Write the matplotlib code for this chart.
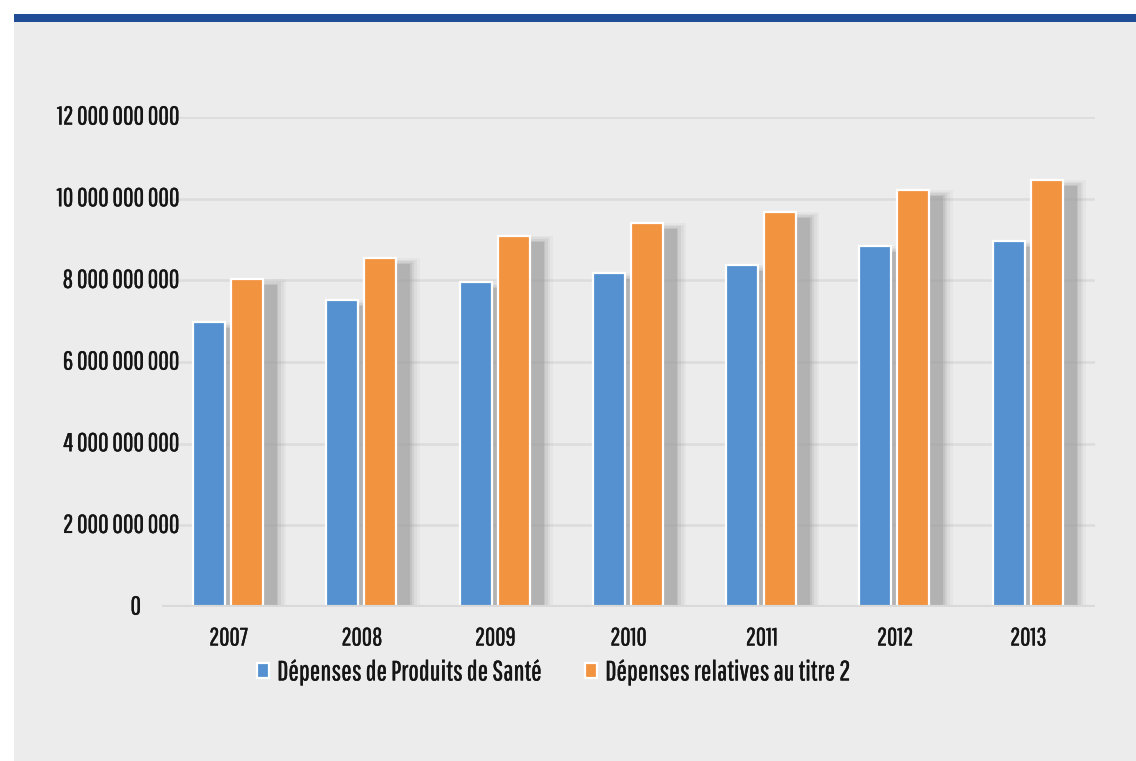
import numpy as np
import matplotlib
matplotlib.use('Agg')
import matplotlib.pyplot as plt
from matplotlib import font_manager
from matplotlib.patches import Rectangle
import matplotlib.patheffects as pe
import matplotlib.transforms as mtransforms

# données
years = ["2007", "2008", "2009", "2010", "2011", "2012", "2013"]
produits_sante = [6.98e9, 7.52e9, 7.96e9, 8.18e9, 8.38e9, 8.84e9, 8.96e9]
titre_2 = [8.03e9, 8.55e9, 9.09e9, 9.40e9, 9.67e9, 10.21e9, 10.46e9]
y_ticks = [0, 2e9, 4e9, 6e9, 8e9, 10e9, 12e9]
legend_labels = ["Dépenses de Produits de Santé", "Dépenses relatives au titre 2"]

# police condensée si disponible
installed = {f.name for f in font_manager.fontManager.ttflist}
family = [f for f in ["Pathway Gothic One", "Sofia Sans Extra Condensed", "Liberation Sans Narrow"]
          if f in installed] + ["DejaVu Sans"]
plt.rcParams['font.family'] = family
condensed = family[0] != "DejaVu Sans"
fs_y = 18.5 if condensed else 13
fs_x = 18 if condensed else 13
fs_leg = 20 if condensed else 13

BLUE = "#5591D0"
ORANGE = "#F29340"
PANEL = "#ECECEC"
TEXT = "#151515"
bold_fx = [pe.withStroke(linewidth=0.3, foreground=TEXT)]

fig = plt.figure(figsize=(11.36, 7.61), dpi=100)
fig.patch.set_facecolor("white")
# panneau gris + bandeau bleu
fig.patches.append(Rectangle((14 / 1136, 0.0), 1.0, 1 - 22 / 761, transform=fig.transFigure,
                             facecolor=PANEL, edgecolor="none", zorder=-10))
fig.patches.append(Rectangle((14 / 1136, 1 - 22 / 761), 1.0, 8 / 761, transform=fig.transFigure,
                             facecolor="#1F4C94", edgecolor="none", zorder=-10))

ax = fig.add_axes([162 / 1136, 1 - 607 / 761, (1095 - 162) / 1136, (607 - 117) / 761])
ax.set_facecolor("none")
ax.set_xlim(-0.5, len(years) - 0.5)
ax.set_ylim(0, 12e9)

x = np.arange(len(years))
w = 0.24
off_b = -0.147
off_o = 0.138
sh = 0.105  # décalage de l'ombre

# ombres floues (couches superposées)
for dx, series in ((off_b, produits_sante), (off_o, titre_2)):
    vals = np.array(series)
    for grow, alpha in [(0.14, 0.08), (0.10, 0.12), (0.06, 0.18), (0.02, 0.25), (0.0, 0.40)]:
        ax.bar(x + dx + sh, vals - 0.14e9 + grow * 1.0e9, width=w + grow, bottom=0,
               color="#9C9C9C", alpha=alpha, linewidth=0, zorder=1)

ax.bar(x + off_b, produits_sante, width=w, color=BLUE, edgecolor="white", linewidth=1.6,
       zorder=3, label=legend_labels[0])
ax.bar(x + off_o, titre_2, width=w, color=ORANGE, edgecolor="white", linewidth=1.6,
       zorder=3, label=legend_labels[1])

for v in y_ticks[1:]:
    ax.axhline(v, color="#DCDCDC", linewidth=1.8, zorder=0)
ax.axhline(0, color="#D9D9D9", linewidth=3, zorder=4)

for s in ax.spines.values():
    s.set_visible(False)
ax.set_yticks([])
ax.set_xticks(x)
ax.set_xticklabels(years, fontsize=fs_x, color=TEXT)
for t in ax.get_xticklabels():
    t.set_path_effects(bold_fx)
ax.tick_params(axis="x", length=0, pad=14)

trans = mtransforms.blended_transform_factory(fig.transFigure, ax.transData)
for v in y_ticks:
    lab = f"{v:,.0f}".replace(",", " ")
    xr = 141 / 1136 if v == 0 else 179 / 1136
    ax.text(xr, v, lab, transform=trans, ha="right", va="center", fontsize=fs_y,
            color=TEXT, zorder=5, path_effects=bold_fx)

leg = fig.legend(loc="center", bbox_to_anchor=(0.487, 1 - 672 / 761), ncol=2, frameon=False,
                 fontsize=fs_leg, handlelength=0.42, handleheight=0.5, handletextpad=0.3,
                 columnspacing=1.6, labelcolor=TEXT)
for t in leg.get_texts():
    t.set_path_effects(bold_fx)

fig.savefig("out.png", dpi=100, facecolor=fig.get_facecolor())
plt.close(fig)
